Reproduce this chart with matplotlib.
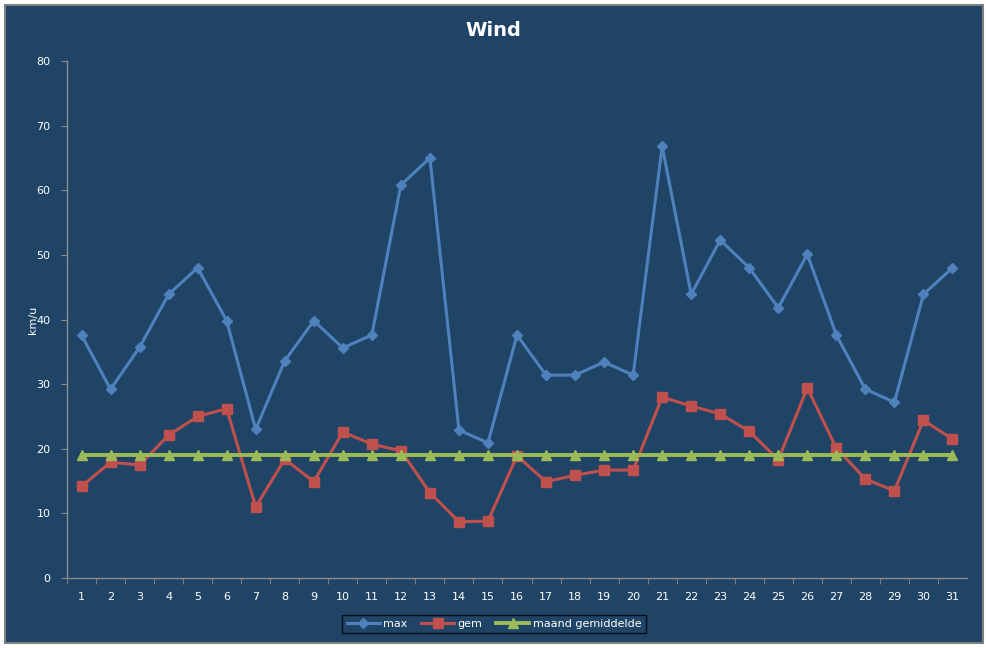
import matplotlib
matplotlib.use("Agg")
import matplotlib.pyplot as plt
from matplotlib.patches import Rectangle

days = list(range(1, 32))
wind_max = [37.6, 29.2, 35.7, 43.9, 48.0, 39.8, 23.0, 33.6, 39.8, 35.6,
            37.6, 60.8, 65.0, 22.9, 20.9, 37.6, 31.4, 31.4, 33.4, 31.4,
            66.8, 43.9, 52.3, 48.0, 41.8, 50.1, 37.6, 29.2, 27.2, 43.9, 48.0]
wind_gem = [14.2, 17.9, 17.5, 22.1, 25.0, 26.2, 11.0, 18.4, 14.9, 22.6,
            20.7, 19.7, 13.2, 8.7, 8.8, 18.9, 14.9, 15.9, 16.7, 16.7,
            28.0, 26.6, 25.4, 22.7, 18.3, 29.4, 20.1, 15.3, 13.5, 24.4, 21.5]
maand_gem = [19.0] * 31
y_ticks = [0, 10, 20, 30, 40, 50, 60, 70, 80]

BG = "#1F4466"
BLUE = "#4F81BD"
RED = "#C0504D"
GREEN = "#9BBB59"
GRAY = "#8C8C8C"
W, H = 987, 648

fig = plt.figure(figsize=(W / 100, H / 100), dpi=100, facecolor="white")

# chart area with thin gray border, white margin outside (as in the Excel export)
fig.patches.append(Rectangle((5 / W, 1 - 643 / H), 978 / W, 638 / H,
                             transform=fig.transFigure, facecolor=BG,
                             edgecolor="#808080", lw=1.5, zorder=-10))

ax = fig.add_axes([67 / W, 1 - 578 / H, 900 / W, 517 / H])
ax.set_facecolor(BG)

ax.plot(days, wind_max, color=BLUE, lw=2.2, marker="D", ms=5, label="max")
ax.plot(days, wind_gem, color=RED, lw=2.2, marker="s", ms=7, label="gem")
ax.plot(days, maand_gem, color=GREEN, lw=2.8, marker="^", ms=6.5, label="maand gemiddelde")

ax.set_xlim(0.5, 31.5)
ax.set_ylim(0, 80)
ax.set_yticks(y_ticks)
ax.set_xticks(days)
ax.set_xticks([d + 0.5 for d in range(0, 31)], minor=True)
ax.tick_params(axis="x", which="major", length=0, colors="white", labelsize=8, pad=10)
ax.tick_params(axis="x", which="minor", length=4, color=GRAY, direction="out")
ax.tick_params(axis="y", length=4, color=GRAY, colors="white", labelsize=8, pad=8)
ax.tick_params(axis="y", color=GRAY)

for side in ("top", "right"):
    ax.spines[side].set_visible(False)
for side in ("left", "bottom"):
    ax.spines[side].set_color(GRAY)
    ax.spines[side].set_linewidth(1)

ax.set_ylabel("km/u", color="white", fontsize=8, va="center")
ax.yaxis.set_label_coords(-34 / 900, 0.5)

fig.text(493 / W, 1 - 31 / H, "Wind", color="white", fontsize=14,
         fontweight="bold", ha="center", va="center")

leg = fig.legend(loc="center", bbox_to_anchor=(494 / W, 1 - 624 / H), ncol=3,
                 frameon=True, fontsize=8, labelcolor="white", handlelength=3,
                 columnspacing=1.2, handletextpad=0.3, borderpad=0.4)
leg.get_frame().set_facecolor(BG)
leg.get_frame().set_edgecolor("black")
leg.get_frame().set_linewidth(1)
leg.get_frame().set_boxstyle("square", pad=0)

fig.savefig("out.png", dpi=100, facecolor="white")
